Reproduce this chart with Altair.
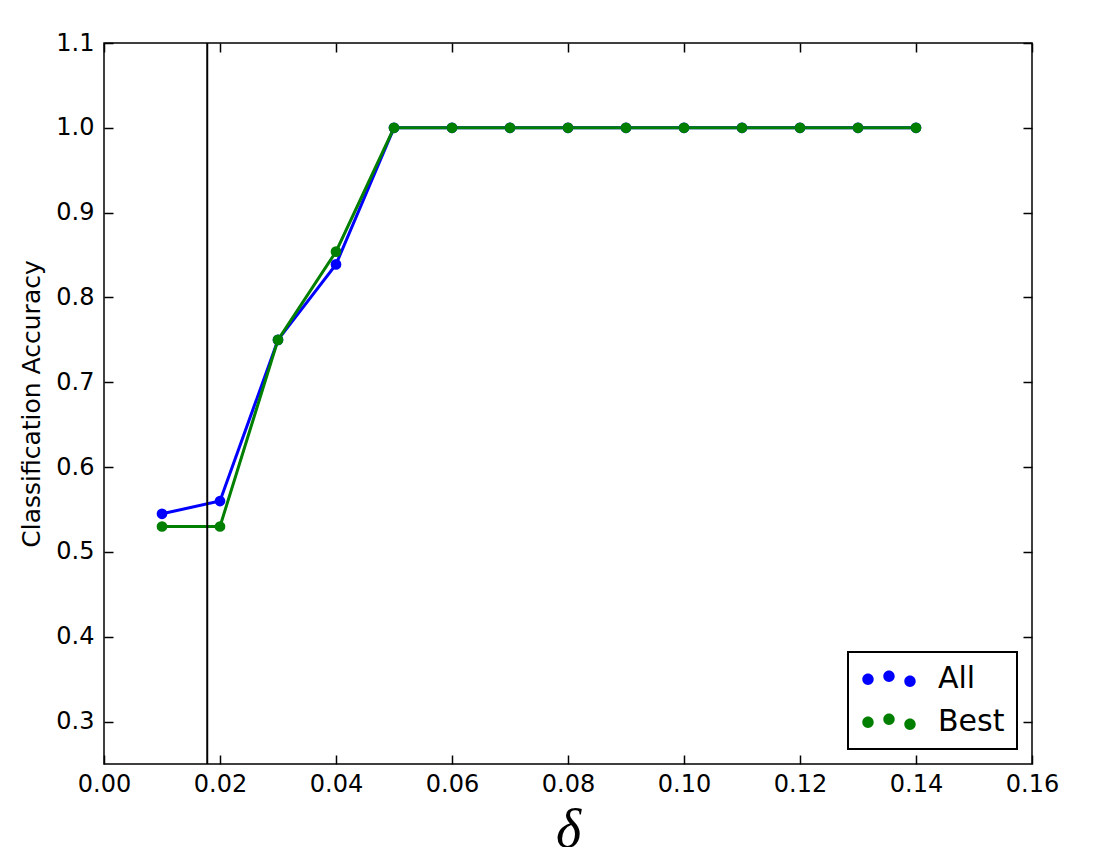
import altair as alt
import pandas as pd

# ---- data ----
delta = [0.01, 0.02, 0.03, 0.04, 0.05, 0.06, 0.07, 0.08, 0.09, 0.10, 0.11, 0.12, 0.13, 0.14]
acc_all = [0.545, 0.560, 0.750, 0.839, 1.0, 1.0, 1.0, 1.0, 1.0, 1.0, 1.0, 1.0, 1.0, 1.0]
acc_best = [0.530, 0.530, 0.750, 0.854, 1.0, 1.0, 1.0, 1.0, 1.0, 1.0, 1.0, 1.0, 1.0, 1.0]
series_names = ["All", "Best"]
series_colors = ["#0000ff", "#007f00"]
vline_x = [0.0178]
x_ticks = [0.00, 0.02, 0.04, 0.06, 0.08, 0.10, 0.12, 0.14, 0.16]
y_ticks = [0.3, 0.4, 0.5, 0.6, 0.7, 0.8, 0.9, 1.0, 1.1]

rows = []
for d, a, b in zip(delta, acc_all, acc_best):
    rows.append({"delta": d, "acc": a, "series": "All"})
    rows.append({"delta": d, "acc": b, "series": "Best"})
df = pd.DataFrame(rows)
vdf = pd.DataFrame({"x": vline_x})

W, H = 928, 721
TICK = 9
FONT = "DejaVu Sans"

xscale = alt.Scale(domain=[0.0, 0.16], nice=False, zero=False)
yscale = alt.Scale(domain=[0.25, 1.1], nice=False, zero=False)


def circ(cx, cy, r):
    return (f"M{cx - r:.3f},{cy:.3f}A{r:.3f},{r:.3f} 0 1,0 {cx + r:.3f},{cy:.3f}"
            f"A{r:.3f},{r:.3f} 0 1,0 {cx - r:.3f},{cy:.3f}Z")


# three scatter dots per legend entry, like matplotlib's scatterpoints=3
legend_path = circ(-1.4, 0.02, 0.38) + circ(0.0, -0.18, 0.38) + circ(1.4, 0.15, 0.38)

x_bottom = alt.Axis(orient="bottom", values=x_ticks, format=".2f", grid=False, domain=False,
                    offset=-TICK, tickSize=TICK, labelPadding=8, labelFlush=False, title="δ",
                    titleFont="Liberation Serif", titleFontStyle="italic", titleFontWeight="normal",
                    titleFontSize=54, titlePadding=7)
y_left = alt.Axis(orient="left", values=y_ticks, format=".1f", grid=False, domain=False,
                  offset=-TICK, tickSize=TICK, labelPadding=10, labelFlush=False,
                  title="Classification Accuracy",
                  titleFontSize=25, titleFontWeight="normal", titlePadding=11)

line_layers = []
for i, (name, col) in enumerate(zip(series_names, series_colors)):
    line_layers.append(
        alt.Chart(df).transform_filter(alt.datum.series == name).mark_line(strokeWidth=3, color=col).encode(
            x=alt.X("delta:Q", scale=xscale, axis=x_bottom if i == 0 else None),
            y=alt.Y("acc:Q", scale=yscale, axis=y_left if i == 0 else None),
        )
    )

points = alt.Chart(df).mark_circle(size=115, opacity=1).encode(
    x=alt.X("delta:Q", scale=xscale, axis=None),
    y=alt.Y("acc:Q", scale=yscale, axis=None),
    color=alt.Color("series:N", scale=alt.Scale(domain=series_names, range=series_colors),
                    legend=alt.Legend(title=None, orient="bottom-right", offset=15,
                                      symbolType=legend_path, symbolSize=900,
                                      symbolStrokeWidth=0, symbolOffset=14,
                                      labelOffset=34, labelFontSize=30, labelFont=FONT,
                                      labelColor="black", rowPadding=13, padding=12,
                                      strokeColor="black", fillColor="white")),
)

vline = alt.Chart(vdf).mark_rule(color="black", strokeWidth=2).encode(
    x=alt.X("x:Q", scale=xscale, axis=None),
)

frame_axes = alt.Chart(df).mark_point(opacity=0).encode(
    x=alt.X("delta:Q", scale=xscale,
            axis=alt.Axis(orient="top", values=x_ticks, labels=False, grid=False, domain=False,
                          offset=-TICK, tickSize=TICK, title=None)),
    y=alt.Y("acc:Q", scale=yscale,
            axis=alt.Axis(orient="right", values=y_ticks, labels=False, grid=False, domain=False,
                          offset=-TICK, tickSize=TICK, title=None)),
)

chart = alt.layer(*line_layers, points, vline, frame_axes).resolve_axis(
    x="independent", y="independent"
).properties(
    width=W, height=H,
    autosize=alt.AutoSizeParams(type="none"),
    padding={"left": 96, "top": 35, "right": 53, "bottom": 83},
).configure(
    font=FONT,
).configure_view(
    stroke="black", strokeWidth=1.5,
).configure_axis(
    labelFont=FONT, labelFontSize=24, labelColor="black",
    tickColor="black", tickWidth=1.5, titleColor="black", titleFont=FONT,
).configure_legend(
    strokeWidth=2,
)

chart.save("out.html", embed_options={"renderer": "svg", "actions": False})
